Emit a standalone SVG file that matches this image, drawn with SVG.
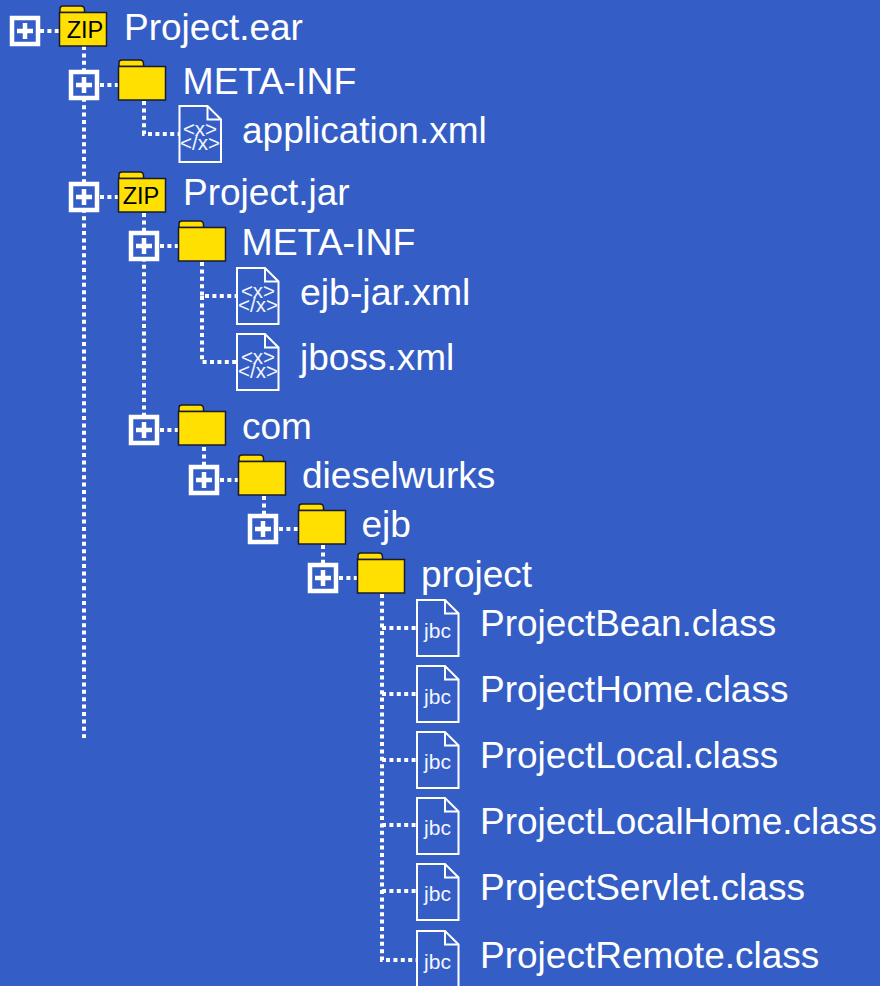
<svg xmlns="http://www.w3.org/2000/svg" width="880" height="986" viewBox="0 0 880 986">
<style>
.bg{fill:#345ec5}
.lbl{font-family:"Liberation Sans",Arial,sans-serif;font-size:37px;fill:#fff}
.wide{font-size:37.4px}
.dot{fill:none;stroke:#fff;stroke-width:4;stroke-dasharray:4 3.4}
.box{fill:#345ec5;stroke:#fff;stroke-width:4.5}
.plus{fill:none;stroke:#fff;stroke-width:4.5}
.fold{fill:#ffe000;stroke:#1a1a2e;stroke-width:1.5}
.zip{font-family:"Liberation Sans",Arial,sans-serif;font-size:23.6px;fill:#000;text-anchor:middle}
.doc{fill:none;stroke:#fff;stroke-width:2}
.jbc{font-family:"Liberation Sans",Arial,sans-serif;font-size:21px;fill:#f2f5ff;text-anchor:middle}
.xm{font-family:"Liberation Sans",Arial,sans-serif;font-size:20.5px;fill:#f2f5ff;text-anchor:middle}
</style>
<defs>
<g id="plusbox"><rect class="box" x="-13" y="-13" width="26" height="26"/><path class="plus" d="M-8 0H8M0-8V8"/></g>
<g id="folder"><path class="fold" d="M1 6.500V2.500Q1 0 4 0H22Q25.500 0 25.500 4V6.500Z"/><rect class="fold" x="0.500" y="6.500" width="47" height="33.500"/></g>
<g id="docshape"><path class="doc" d="M1 1H29L42.500 14.500V57H1Z"/><path class="doc" d="M29 1V14.500H42.500"/></g>
</defs>
<rect class="bg" width="880" height="986"/>
<g id="connectors">
<path class="dot" d="M84 46V738"/>
<path class="dot" d="M40 31H59M100 85H118M100 197H118"/>
<path class="dot" d="M144 101V134H179"/>
<path class="dot" d="M144 213V430M160 246H178M160 430H178"/>
<path class="dot" d="M202 262V296H237M202 296V362H237"/>
<path class="dot" d="M204 447V480M220 480H238"/>
<path class="dot" d="M264 496V529M279 529H298"/>
<path class="dot" d="M323 545V578M339 578H357"/>
<path class="dot" d="M382 594V960H416M382 628H416M382 694H416M382 760H416M382 825H416M382 891H416"/>
</g>
<g id="n-project-ear"><use href="#plusbox" x="25" y="31"/><use href="#folder" x="59" y="6"/><text class="zip" x="85" y="38.300">ZIP</text><text class="lbl" x="124" y="40">Project.ear</text></g>
<g id="n-meta-inf-1"><use href="#plusbox" x="84" y="85"/><use href="#folder" x="118" y="60"/><text class="lbl wide" x="182.500" y="94">META-INF</text></g>
<g id="n-application-xml"><use href="#docshape" x="178.500" y="105"/><text class="xm" x="200"><tspan x="200" y="135.500">&lt;x&gt;</tspan><tspan x="200" y="150">&lt;/x&gt;</tspan></text><text class="lbl" x="242" y="143">application.xml</text></g>
<g id="n-project-jar"><use href="#plusbox" x="84" y="197"/><use href="#folder" x="118" y="172"/><text class="zip" x="141" y="204.300">ZIP</text><text class="lbl" x="183" y="205">Project.jar</text></g>
<g id="n-meta-inf-2"><use href="#plusbox" x="144" y="246"/><use href="#folder" x="178" y="221"/><text class="lbl wide" x="241.500" y="255">META-INF</text></g>
<g id="n-ejb-jar-xml"><use href="#docshape" x="236" y="267"/><text class="xm"><tspan x="258" y="297.500">&lt;x&gt;</tspan><tspan x="258" y="312">&lt;/x&gt;</tspan></text><text class="lbl wide" x="300" y="305">ejb-jar.xml</text></g>
<g id="n-jboss-xml"><use href="#docshape" x="236" y="333"/><text class="xm"><tspan x="258" y="363.500">&lt;x&gt;</tspan><tspan x="258" y="378">&lt;/x&gt;</tspan></text><text class="lbl" x="300" y="370">jboss.xml</text></g>
<g id="n-com"><use href="#plusbox" x="144" y="430"/><use href="#folder" x="178" y="405"/><text class="lbl" x="242" y="439">com</text></g>
<g id="n-dieselwurks"><use href="#plusbox" x="204" y="480"/><use href="#folder" x="238" y="455"/><text class="lbl" x="302" y="488">dieselwurks</text></g>
<g id="n-ejb"><use href="#plusbox" x="263" y="529"/><use href="#folder" x="298" y="504"/><text class="lbl" x="361.500" y="537">ejb</text></g>
<g id="n-project"><use href="#plusbox" x="323" y="578"/><use href="#folder" x="357" y="553"/><text class="lbl" x="421" y="587">project</text></g>
<g id="n-projectbean"><use href="#docshape" x="416" y="599"/><text class="jbc" x="437.500" y="638">jbc</text><text class="lbl" x="480" y="636">ProjectBean.class</text></g>
<g id="n-projecthome"><use href="#docshape" x="416" y="665"/><text class="jbc" x="437.500" y="704">jbc</text><text class="lbl" x="480" y="702">ProjectHome.class</text></g>
<g id="n-projectlocal"><use href="#docshape" x="416" y="731"/><text class="jbc" x="437.500" y="769">jbc</text><text class="lbl" x="480" y="768">ProjectLocal.class</text></g>
<g id="n-projectlocalhome"><use href="#docshape" x="416" y="797"/><text class="jbc" x="437.500" y="835">jbc</text><text class="lbl" x="480" y="834">ProjectLocalHome.class</text></g>
<g id="n-projectservlet"><use href="#docshape" x="416" y="863"/><text class="jbc" x="437.500" y="901">jbc</text><text class="lbl" x="480" y="900">ProjectServlet.class</text></g>
<g id="n-projectremote"><use href="#docshape" x="416" y="930"/><text class="jbc" x="437.500" y="969">jbc</text><text class="lbl" x="480" y="968">ProjectRemote.class</text></g>
</svg>
